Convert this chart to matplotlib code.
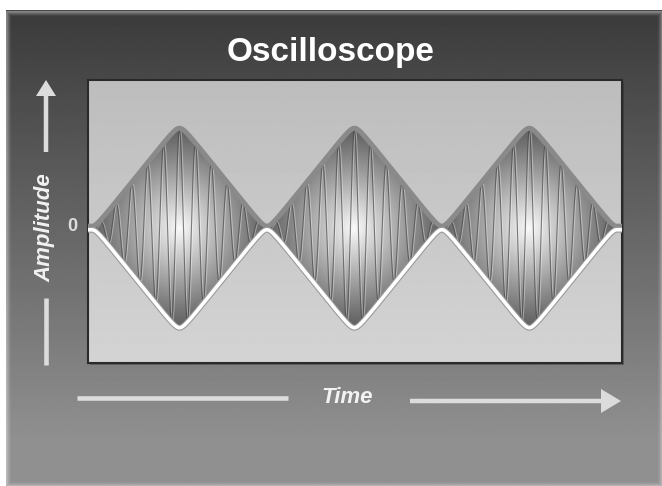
import matplotlib.pyplot as plt
import numpy as np
from matplotlib.patches import Polygon, Rectangle, FancyArrow

plt.rcParams['font.family'] = ['Liberation Sans', 'DejaVu Sans']

# schematic signal description
burst_centers = [0.5, 1.5, 2.5]
burst_peaks = [1.0, 1.0, 1.0]
carrier_cycles = 11
x_range = (-0.023, 3.03)
y_range = (-1.378, 1.51)
zero_label = '0'
title = 'Oscilloscope'
xlabel = 'Time'
ylabel = 'Amplitude'

W, H = 662, 486
fig = plt.figure(figsize=(W / 100, H / 100), dpi=100)
fig.patch.set_facecolor('white')

# background panel (pixel coordinates)
bg = fig.add_axes([0, 0, 1, 1])
bg.set_xlim(0, W)
bg.set_ylim(H, 0)
bg.axis('off')
grad = np.clip(np.linspace(0.23, 0.60, 400), 0, 0.565)[:, None] * np.ones((1, 2))
bg.imshow(grad, extent=(6, W, H, 11), cmap='gray', vmin=0, vmax=1,
          aspect='auto', interpolation='bilinear', zorder=0)
for k, a in enumerate([0.35, 0.25, 0.16, 0.09, 0.04]):
    bg.add_patch(Rectangle((6 + k, 11 + k), W - 6 - 2 * k, H - 11 - 2 * k,
                           fill=False, edgecolor='white', alpha=a, lw=1, zorder=1))

bg.text(331, 52, title, color='white', fontsize=24, fontweight='bold',
        ha='center', va='center')

arrow_col = '#dcdcdc'
bg.add_patch(FancyArrow(46, 152, 0, -72, width=4.5, head_width=20, head_length=16,
                        length_includes_head=True, color=arrow_col, lw=0))
bg.plot([46, 46], [298, 365], color=arrow_col, lw=3.3, solid_capstyle='butt')
bg.text(45, 228, ylabel, color='#f2f2f2', fontsize=16, fontweight='bold',
        style='italic', rotation=90, ha='center', va='center')
bg.text(72, 226, zero_label, color='#dedede', fontsize=13, fontweight='bold',
        ha='center', va='center')

bg.plot([77, 288], [398, 398], color=arrow_col, lw=3.3, solid_capstyle='butt')
bg.add_patch(FancyArrow(410, 401, 211, 0, width=4.5, head_width=24, head_length=20,
                        length_includes_head=True, color=arrow_col, lw=0))
bg.text(347, 397, xlabel, color='#f2f2f2', fontsize=16, fontweight='bold',
        style='italic', ha='center', va='center')

# frame shadow
bg.add_patch(Rectangle((90, 82), 534, 283, facecolor='#202020', alpha=0.35,
                       edgecolor='none', zorder=1))

# oscilloscope screen
ax = fig.add_axes([88 / W, 1 - 363 / H, 534 / W, 283 / H])
ax.set_xlim(*x_range)
ax.set_ylim(*y_range)
ax.set_xticks([])
ax.set_yticks([])
for s in ax.spines.values():
    s.set_color('#2a2a2a')
    s.set_linewidth(1.5)

scr = np.linspace(0.83, 0.74, 200)[:, None] * np.ones((1, 2))
ax.imshow(scr, extent=(*x_range, *y_range), origin='lower', cmap='gray',
          vmin=0, vmax=1, aspect='auto', interpolation='bilinear', zorder=0)

x = np.linspace(x_range[0], x_range[1], 24000)
delta = 0.015
A = (2 / np.pi) * np.arcsin(1 - delta)
env = np.zeros_like(x)
for c, p in zip(burst_centers, burst_peaks):
    m = np.abs(x - c) <= 0.5
    g = (2 / np.pi) * np.arcsin((1 - delta) * np.cos(2 * np.pi * (x[m] - c)))
    env[m] += p * (g + A) / (2 * A)

# radial shading inside bursts
gx = np.linspace(x_range[0], x_range[1], 700)
gy = np.linspace(y_range[0], y_range[1], 350)
GX, GY = np.meshgrid(gx, gy)
shade = np.full(GX.shape, 0.35)
for c in burst_centers:
    d = np.sqrt(((GX - c) / 0.5) ** 2 + (GY / 1.0) ** 2)
    shade = np.maximum(shade, 0.38 + 0.60 * np.clip(1 - d, 0, 1) ** 1.1)
im = ax.imshow(shade, extent=(*x_range, *y_range), origin='lower', cmap='gray',
               vmin=0, vmax=1, aspect='auto', interpolation='bilinear', zorder=1)
verts = np.column_stack([np.r_[x, x[::-1]], np.r_[env, -env[::-1]]])
clip = Polygon(verts, closed=True, facecolor='none', edgecolor='none')
ax.add_patch(clip)
im.set_clip_path(clip)

carrier = env * np.cos(2 * np.pi * carrier_cycles * (x - burst_centers[0]))
ax.plot(x + 0.006, carrier, color='white', lw=0.9, alpha=0.35, zorder=2)
ax.plot(x, carrier, color='#444444', lw=0.8, alpha=0.65, zorder=2)

off = 0.018
ax.plot(x, env + off, color='#8a8a8a', lw=3.6, zorder=3, solid_capstyle='round')
ax.plot(x, -env - off, color='#9a9a9a', lw=4.2, zorder=3)
ax.plot(x, -env - off, color='white', lw=2.6, zorder=4)

fig.savefig('out.png', dpi=100)
